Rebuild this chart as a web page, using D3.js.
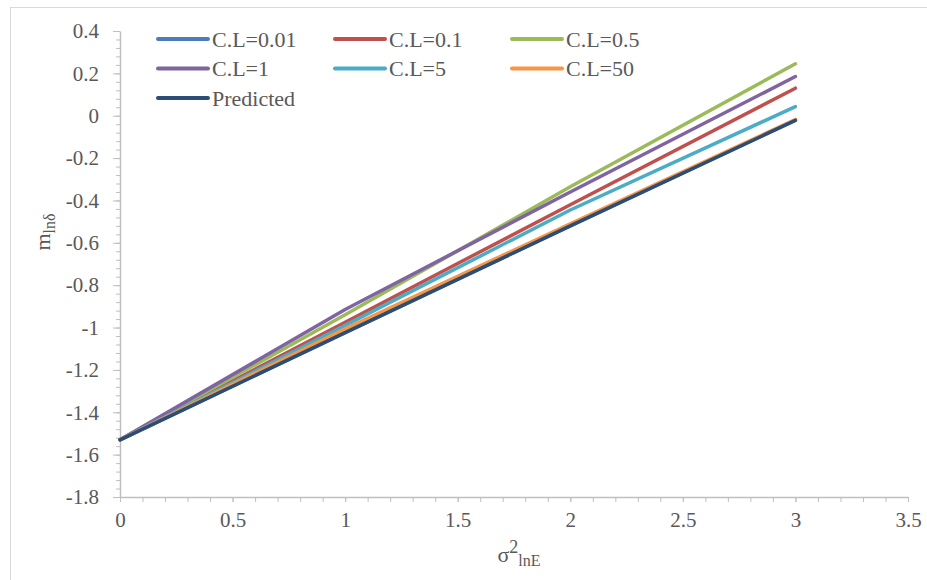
<!DOCTYPE html>
<html>
<head>
<meta charset="utf-8">
<script src="https://cdn.jsdelivr.net/npm/d3@7.9.0/dist/d3.min.js"></script>
<style>
  body { margin: 0; background: #fff; }
</style>
</head>
<body>
<div id="chart"></div>
<script>
const xValues = [0, 1, 2, 3];
const seriesNames = ["C.L=0.01", "C.L=0.1", "C.L=0.5", "C.L=1", "C.L=5", "C.L=50", "Predicted"];
const seriesColors = ["#4a7ebb", "#c0504d", "#9bbb59", "#8064a2", "#4bacc6", "#f79646", "#2c4d75"];
const cl001 = [-1.53, -1.024, -0.52, -0.02];
const cl01 = [-1.53, -0.975, -0.42, 0.13];
const cl05 = [-1.53, -0.94, -0.335, 0.245];
const cl1 = [-1.53, -0.915, -0.36, 0.185];
const cl5 = [-1.53, -0.99, -0.445, 0.043];
const cl50 = [-1.53, -1.006, -0.51, -0.018];
const predicted = [-1.53, -1.024, -0.52, -0.022];
const seriesValues = [cl001, cl01, cl05, cl1, cl5, cl50, predicted];
const xTicks = [0, 0.5, 1, 1.5, 2, 2.5, 3, 3.5];
const yTicks = [0.4, 0.2, 0, -0.2, -0.4, -0.6, -0.8, -1, -1.2, -1.4, -1.6, -1.8];

const FONT = "Liberation Serif";
const width = 927, height = 580;
const area = { left: 120, right: 908, top: 31, bottom: 497 };

const svg = d3.select("#chart").append("svg")
  .attr("width", width).attr("height", height)
  .attr("font-family", FONT);

// faint outer frame
svg.append("rect").attr("x", 10.5).attr("y", 7.5).attr("width", 940).attr("height", 600)
  .attr("fill", "none").attr("stroke", "#d9d9d9");

const x = d3.scaleLinear().domain([0, 3.5]).range([area.left, area.right]);
const y = d3.scaleLinear().domain([-1.8, 0.4]).range([area.bottom, area.top]);

const axisColor = "#bfbfbf";
const labelColor = "#595959";

// y axis minor ticks
const yMinor = d3.range(0, 56).map(i => -1.8 + i * 0.04);
svg.append("g").attr("transform", `translate(${area.left},0)`)
  .call(d3.axisLeft(y).tickValues(yMinor).tickSize(4).tickFormat(""))
  .call(g => g.select(".domain").remove())
  .call(g => g.selectAll("line").attr("stroke", axisColor));

// y axis major
svg.append("g").attr("transform", `translate(${area.left},0)`)
  .call(d3.axisLeft(y).tickValues(yTicks).tickSize(7).tickSizeOuter(0).tickPadding(14)
    .tickFormat(d => String(+d.toFixed(1))))
  .attr("font-family", FONT)
  .call(g => g.select(".domain").attr("stroke", axisColor).attr("stroke-width", 1.5))
  .call(g => g.selectAll("line").attr("stroke", axisColor))
  .call(g => g.selectAll("text").attr("fill", labelColor).attr("font-size", 21)
    .attr("font-family", FONT));

// x axis minor
const xMinor = d3.range(0, 36).map(i => i * 0.1);
svg.append("g").attr("transform", `translate(0,${area.bottom})`)
  .call(d3.axisBottom(x).tickValues(xMinor).tickSize(5).tickFormat(""))
  .call(g => g.select(".domain").remove())
  .call(g => g.selectAll("line").attr("stroke", axisColor));

// x axis major
svg.append("g").attr("transform", `translate(0,${area.bottom})`)
  .call(d3.axisBottom(x).tickValues(xTicks).tickSize(5).tickSizeOuter(0).tickPadding(10)
    .tickFormat(d => String(d)))
  .attr("font-family", FONT)
  .call(g => g.select(".domain").attr("stroke", axisColor).attr("stroke-width", 1.5))
  .call(g => g.selectAll("line").attr("stroke", axisColor))
  .call(g => g.selectAll("text").attr("fill", labelColor).attr("font-size", 21)
    .attr("font-family", FONT));

// series lines
const line = d3.line().x((d, i) => x(xValues[i])).y(d => y(d));
seriesValues.forEach((vals, i) => {
  svg.append("path").datum(vals)
    .attr("d", line)
    .attr("fill", "none")
    .attr("stroke", seriesColors[i])
    .attr("stroke-width", 3.5)
    .attr("stroke-linecap", "round")
    .attr("stroke-linejoin", "round");
});

// legend
const legendCols = [158, 335, 512];
const legendRows = [39, 68.5, 98];
const legend = svg.append("g");
seriesNames.forEach((name, i) => {
  const lx = legendCols[i % 3], ly = legendRows[Math.floor(i / 3)];
  legend.append("line").attr("x1", lx).attr("x2", lx + 50).attr("y1", ly).attr("y2", ly)
    .attr("stroke", seriesColors[i]).attr("stroke-width", 4).attr("stroke-linecap", "round");
  legend.append("text").attr("x", lx + 54).attr("y", ly + 7.5)
    .attr("font-family", FONT)
    .attr("font-size", 22).attr("fill", labelColor).text(name);
});

// axis titles
const xt = svg.append("text").attr("x", 519).attr("y", 562).attr("text-anchor", "middle")
  .attr("font-family", FONT).attr("fill", labelColor).attr("font-size", 22);
xt.append("tspan").text("σ");
xt.append("tspan").attr("dy", -9).attr("font-size", 18).text("2");
xt.append("tspan").attr("dy", 13).attr("font-size", 16).text("lnE");

const yt = svg.append("text")
  .attr("transform", "translate(50,232) rotate(-90)")
  .attr("font-family", FONT)
  .attr("text-anchor", "middle").attr("fill", labelColor).attr("font-size", 22);
yt.append("tspan").text("m");
yt.append("tspan").attr("dy", 5).attr("font-size", 16).text("lnδ");
</script>
</body>
</html>
